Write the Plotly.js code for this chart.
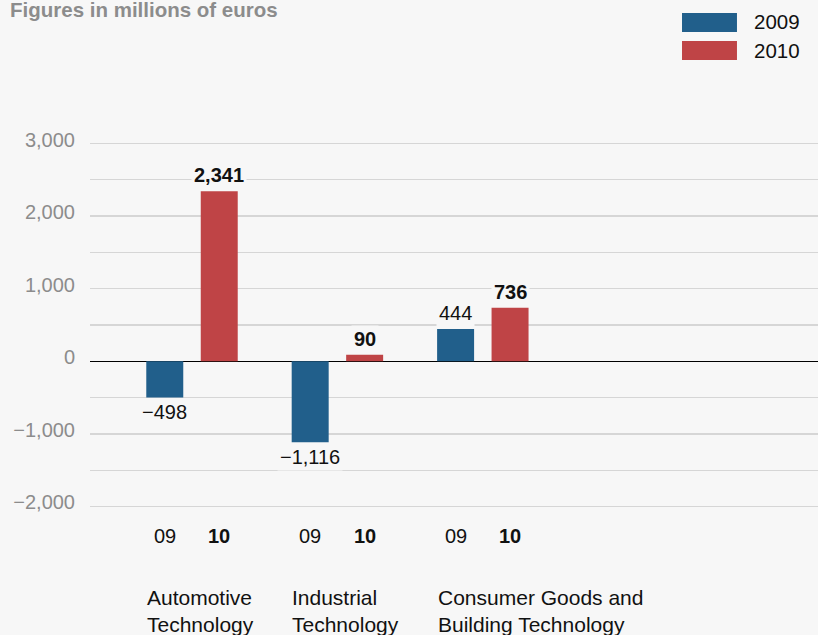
<!DOCTYPE html>
<html>
<head>
<meta charset="utf-8">
<script src="https://cdn.plot.ly/plotly-3.0.1.min.js"></script>
<style>html,body{margin:0;padding:0;background:#f7f7f7;}#chart{width:818px;height:635px;}</style>
</head>
<body>
<div id="chart"></div>
<script>
// ---- data ----
const categories = ["Automotive<br>Technology", "Industrial<br>Technology", "Consumer Goods and<br>Building Technology"];
const seriesNames = ["2009", "2010"];
const shortYears = ["09", "10"];
const values2009 = [-498, -1116, 444];
const values2010 = [2341, 90, 736];
const yTickVals = [-2000, -1500, -1000, -500, 0, 500, 1000, 1500, 2000, 2500, 3000];
const yTickText = ["\u22122,000", "", "\u22121,000", "", "0", "", "1,000", "", "2,000", "", "3,000"];
const colors = ["#215f8b", "#bf4446"];
const titleText = "Figures in millions of euros";

const FONT = "Liberation Sans, Arial, sans-serif";
const BG = "#f7f7f7";
const catIdx = categories.map((c, i) => i);

function fmt(v) {
  const s = Math.abs(v).toLocaleString("en-US");
  return (v < 0 ? "\u2212" : "") + s;
}

const allSeries = [values2009, values2010];
const traces = allSeries.map((vals, s) => ({
  type: "bar",
  name: seriesNames[s],
  x: catIdx,
  y: vals,
  marker: { color: colors[s] },
  hoverinfo: "skip",
  showlegend: false
}));

const annotations = [];
// title
annotations.push({
  text: "<b>" + titleText + "</b>", xref: "paper", yref: "paper",
  x: -0.112, y: 1.305, xanchor: "left", yanchor: "middle", showarrow: false,
  font: { family: FONT, size: 20.5, color: "#8c8c8c" }
});
// value labels + year labels
const offsets = [-27.25, 27.25];
allSeries.forEach((vals, s) => {
  vals.forEach((v, i) => {
    annotations.push({
      text: s === 1 ? "<b>" + fmt(v) + "</b>" : fmt(v),
      xref: "x", yref: "y", x: i, y: v, xshift: offsets[s],
      yanchor: v >= 0 ? "bottom" : "top", yshift: v >= 0 ? 2 : -1,
      showarrow: false, bgcolor: BG, borderpad: 2,
      font: { family: FONT, size: 20, color: "#111" }
    });
    annotations.push({
      text: s === 1 ? "<b>" + shortYears[s] + "</b>" : shortYears[s],
      xref: "x", yref: "paper", x: i, y: -0.0383, xshift: offsets[s],
      yanchor: "middle", showarrow: false,
      font: { family: FONT, size: 20, color: "#111" }
    });
  });
});
// category labels
categories.forEach((c, i) => {
  annotations.push({
    text: c, xref: "x", yref: "paper", x: i, y: -0.2296, xshift: -47,
    xanchor: "left", yanchor: "middle", align: "left", showarrow: false,
    font: { family: FONT, size: 21, color: "#111" }
  });
});
// legend
const legY = [[1.2959, 1.2474], [1.2245, 1.1760]];
const legTextY = [1.2730, 1.2015];
const shapes = [];
seriesNames.forEach((n, s) => {
  shapes.push({
    type: "rect", xref: "paper", yref: "paper",
    x0: 0.8132, x1: 0.8887, y0: legY[s][1], y1: legY[s][0],
    fillcolor: colors[s], line: { width: 0 }
  });
  annotations.push({
    text: n, xref: "paper", yref: "paper", x: 0.910, y: legTextY[s],
    xanchor: "left", yanchor: "middle", showarrow: false,
    font: { family: FONT, size: 20.5, color: "#111" }
  });
});

const layout = {
  width: 818, height: 635,
  paper_bgcolor: BG, plot_bgcolor: BG,
  margin: { l: 90, r: 0, t: 129, b: 114, pad: 0 },
  barmode: "group", bargap: 0.2509, bargroupgap: 0.321,
  showlegend: false,
  font: { family: FONT, size: 20, color: "#111" },
  xaxis: {
    type: "linear", range: [-0.7015, 4.305], showgrid: false, zeroline: false,
    showticklabels: false, ticks: "", fixedrange: true
  },
  yaxis: {
    range: [-2200, 3200], tickmode: "array", tickvals: yTickVals, ticktext: yTickText,
    showgrid: true, gridcolor: "#d6d6d6", gridwidth: 1.3,
    zeroline: true, zerolinecolor: "#000", zerolinewidth: 1.5,
    ticks: "", ticklabelstandoff: 14, ticklabelshift: -4,
    tickfont: { family: FONT, size: 20, color: "#8c8c8c" }, fixedrange: true
  },
  annotations: annotations,
  shapes: shapes
};

Plotly.newPlot("chart", traces, layout, { staticPlot: true, displayModeBar: false });
</script>
</body>
</html>
